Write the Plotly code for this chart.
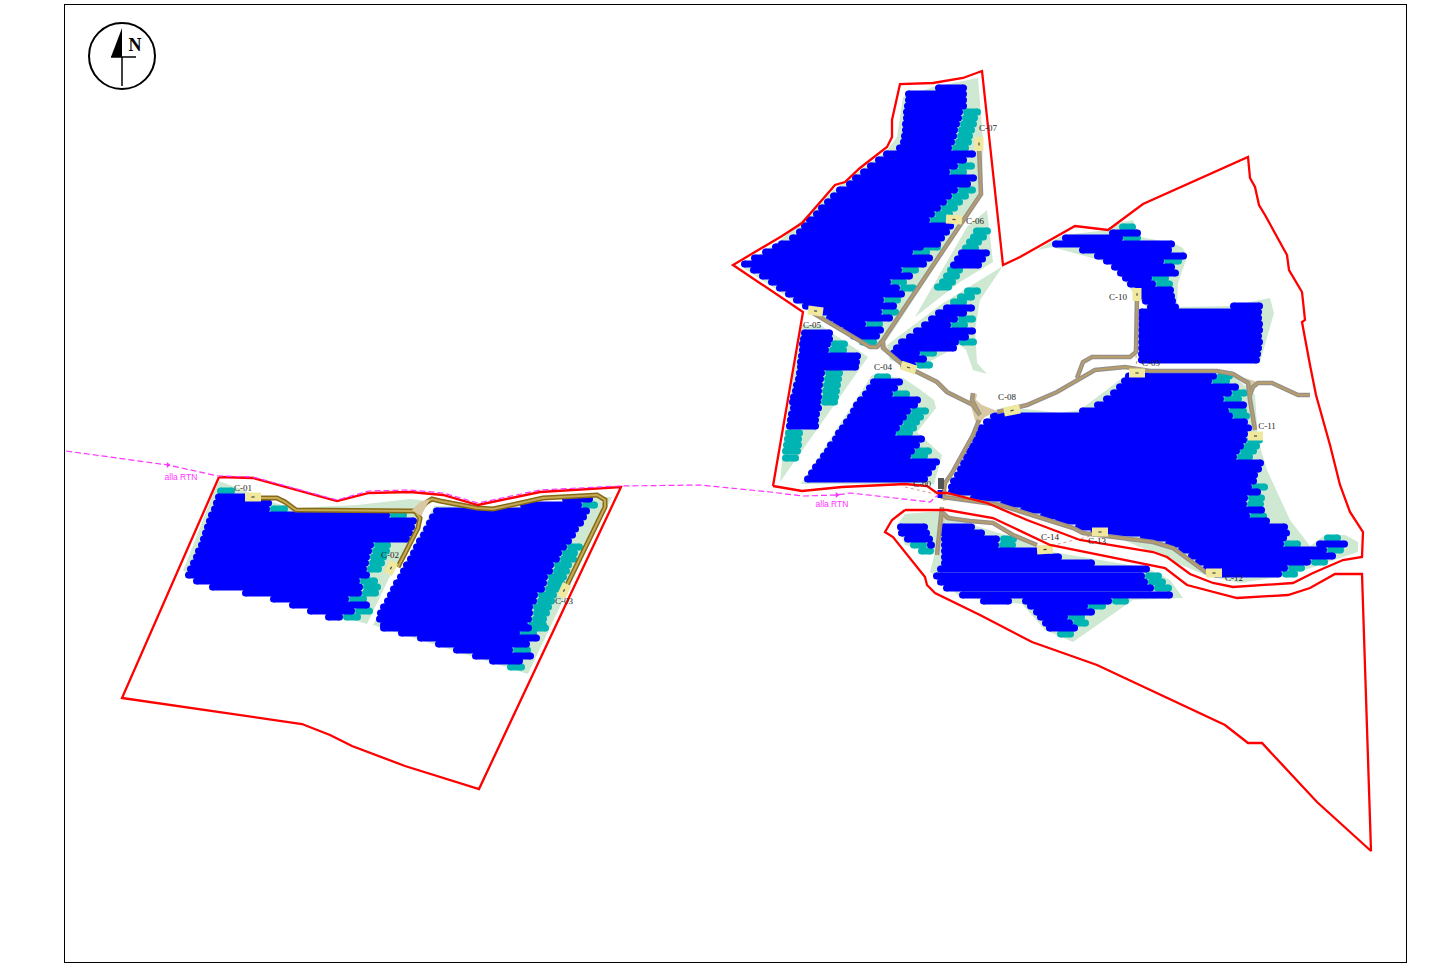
import plotly.graph_objects as go

# ---- panel rows: (y, blue left, blue right / teal left, teal right or 0) ----
ROWS_W1 = [(491,217,217,235),(497,215,250,0),(503,213,272,0),(509,211,270,288),(515,208,390,407),(521,206,417,0),(527,204,415,0),
 (533,202,413,0),(539,200,410,0),(545,198,374,391),(551,195,372,390),(557,193,370,387),(563,190,369,385),
 (569,187,367,382),(575,185,370,0),(581,193,360,378),(587,209,363,381),(593,242,362,379),(599,270,349,367),
 (605,289,370,0),(611,307,355,373),(617,325,343,361)]
ROWS_W2 = [(499,562,593,0),(505,520,582,598),(511,433,590,0),(517,429,587,0),(523,426,584,0),(529,423,579,0),(535,420,576,0),
 (541,416,572,0),(547,413,567,583),(553,410,562,578),(559,407,560,577),(565,403,554,572),(571,400,553,570),
 (577,397,548,567),(583,393,547,565),(589,390,545,563),(595,387,538,557),(601,384,537,555),(607,380,533,552),
 (613,377,533,550),(619,376,532,547),(625,380,528,547),(628,380,532,549),(633,398,520,537),(638,417,540,0),(644,435,530,0),
 (650,453,513,531),(656,472,534,0),(661,489,523,0),(667,507,507,525)]
ROWS_N1 = [(88,935,967,0),(94,905,967,0),(100,905,967,0),(106,904,967,0),(112,903,963,981),(118,903,962,978),
 (124,902,960,977),(130,902,958,975),(136,901,957,973),(142,900,955,972),(148,896,952,969),(154,883,976,0),
 (160,875,967,0),(166,867,958,975),(172,860,950,967),(178,852,977,0),(184,846,971,0),(190,836,958,976),
 (196,830,952,969),(202,824,947,963),(208,818,941,958),(214,813,935,953),(220,806,930,947),(226,801,954,0),
 (232,796,950,0),(238,789,945,0),(244,778,941,0),(247,772,924,941),(252,762,913,930),(258,751,933,0),
 (264,741,927,0),(270,750,902,919),(276,759,913,0),(282,768,891,907),(288,776,900,917),(294,785,905,0),
 (300,793,884,901),(306,802,897,0),(312,815,882,899),(318,826,893,0),(324,832,866,883),(330,842,884,0),
 (336,850,880,0),(342,859,859,877)]
ROWS_N2 = [(231,973,973,991),(237,970,970,987),(242,966,966,982),(248,962,962,979),(253,958,990,0),(259,954,986,0),
 (265,950,982,0),(270,947,947,963),(276,943,943,960),(282,939,939,956),(287,934,934,952)]
ROWS_N3 = [(291,964,964,981),(297,957,957,975),(302,950,950,967),(308,943,975,0),(313,935,967,0),(319,928,958,976),
 (325,921,951,968),(331,913,976,0),(337,906,969,0),(342,898,959,977),(348,893,957,0),(353,890,920,937),
 (359,895,927,0),(365,900,916,933)]
ROWS_SW = [(333,801,833,0),(339,800,833,0),(344,799,831,848),(350,799,829,847),(356,798,861,0),(362,797,860,0),
 (367,797,859,0),(373,796,825,843),(379,795,824,842),(385,793,823,841),(391,792,822,840),(397,790,822,839),
 (402,789,821,838),(408,790,822,0),(414,788,820,0),(420,787,819,0),(426,786,819,0),(433,785,785,803),
 (439,784,784,802),(445,783,783,802),(451,782,782,801),(458,782,782,799)]
ROWS_C4 = [(377,874,874,891),(382,870,903,0),(388,866,898,0),(394,862,893,910),(400,857,921,0),(405,853,918,0),
 (411,850,911,929),(417,847,907,924),(422,843,903,920),(428,839,900,917),(433,835,896,913),(439,832,925,0),
 (445,827,920,0),(451,824,915,932),(456,820,911,928),(462,816,940,0),(467,812,936,0),(473,808,932,0),(479,804,928,0)]
ROWS_E1 = [(227,1119,1119,1136),(233,1109,1141,0),(238,1062,1123,1141),(244,1052,1175,0),(250,1079,1172,0),
 (256,1094,1187,0),(261,1103,1164,1182),(267,1111,1175,0),(273,1117,1179,0),(278,1122,1152,1169),
 (284,1127,1156,1173),(290,1134,1174,0),(296,1138,1175,0),(301,1142,1176,0),(307,1147,1179,0),(306,1230,1263,0),
 (312,1138,1262,0),(318,1138,1262,0),(324,1138,1263,0),(330,1138,1263,0),(336,1138,1262,0),(342,1138,1263,0),
 (348,1138,1262,0),(354,1138,1261,0),(360,1138,1260,0)]
ROWS_E2 = [(376,1125,1217,1233),(381,1121,1212,1230),(387,1116,1239,0),(393,1110,1232,1248),(399,1103,1224,1242),
 (405,1094,1247,0),(411,1079,1229,1247),(416,990,1233,1250),(422,983,1248,0),(428,977,1252,0),(434,975,1248,0),
 (440,972,1247,1263),(446,969,1244,1260),(451,966,1240,1257),(457,963,1237,1253),(463,960,1264,0),(469,957,1262,0),
 (475,954,1258,0),(481,950,1257,0),(487,948,1252,1268),(492,948,1261,0),(498,970,1248,1265),(504,1000,1247,1264),
 (510,1020,1265,0),(516,1040,1250,1267),(521,1055,1270,0),(527,1075,1288,0),(533,1090,1290,0),(538,1140,1287,0),
 (538,1324,1324,1341),(544,1165,1284,1301),(544,1316,1348,0),(550,1178,1327,1344),(556,1188,1336,0),
 (562,1195,1311,1328),(568,1203,1288,1305),(574,1212,1282,1298)]
ROWS_S = [(527,897,928,0),(533,898,930,0),(539,904,933,0),(545,927,935,0),(545,910,910,927),(551,918,918,934),
 (527,940,975,0),(533,940,985,0),(539,941,1000,1017),(545,941,999,1016),(551,941,1050,0),(557,941,1062,0),
 (563,941,1095,0),(569,937,1150,0),(576,933,1145,1162),(582,937,1148,1166),(588,943,1154,1172),(595,959,1173,0),
 (601,980,1012,0),(601,1022,1112,1129),(606,1027,1088,1106),(612,1033,1095,0),(617,1037,1068,1085),
 (623,1042,1073,1089),(628,1046,1078,0),(634,1057,1057,1074)]
ALL_ROWS = [ROWS_W1, ROWS_W2, ROWS_N1, ROWS_N2, ROWS_N3, ROWS_SW, ROWS_C4, ROWS_E1, ROWS_E2, ROWS_S]

# ---- green areas ----
GREEN = [
 [(219,481),(238,488),(275,503),(294,508),(357,505),(410,499),(428,501),(418,512),(423,520),(392,572),(367,624),(183,571),(213,494)],
 [(434,506),(466,505),(470,513),(495,513),(520,506),(600,497),(612,497),(528,674),(373,625)],
 [(933,87),(978,78),(983,140),(982,195),(887,340),(873,347),(813,313),(803,307),(742,267),(783,238),(830,193),(887,150),(897,137),(903,97)],
 [(987,210),(993,262),(960,282),(915,317),(967,227)],
 [(1003,266),(943,303),(887,345),(890,360),(918,368),(960,345),(966,350),(973,370),(987,374),(977,363),(975,330),(980,300)],
 [(801,325),(820,325),(868,357),(780,482),(785,430)],
 [(872,375),(903,378),(918,388),(934,400),(936,408),(917,432),(942,455),(934,484),(801,484)],
 [(990,415),(1017,408),(1060,413),(1080,410),(1125,376),(1233,375),(1255,395),(1258,440),(1267,470),(1290,520),(1310,546),(1325,535),(1345,535),(1358,542),(1358,552),(1290,575),(1240,583),(1205,575),(1100,530),(950,495)],
 [(1037,250),(1063,235),(1108,230),(1118,223),(1133,220),(1137,230),(1140,237),(1173,243),(1183,248),(1187,257),(1178,283),(1177,307),(1230,306),(1270,298),(1274,313),(1260,362),(1137,362),(1147,308),(1137,297),(1110,263),(1052,247)],
 [(897,525),(905,514),(940,511),(973,525),(1037,545),(1053,552),(1147,568),(1170,580),(1183,598),(1133,600),(1073,642),(1045,630),(1022,604),(960,597),(930,572),(935,552),(905,545)],
]

# ---- roads ----
ROADS_WEST = [
 [(260,498),(277,498),(285,502),(296,510),(410,511),(418,511),(427,502),(432,499),(440,501),(477,508),(493,509),(543,498),(597,495),(605,500),(605,507),(567,585)],
 [(415,511),(420,518),(418,528),(398,567)],
]
ROADS_EAST = [
 [(979,147),(981,194),(883,340),(877,347),(870,347),(813,313)],
 [(883,340),(883,348),(903,365),(937,382),(947,392),(973,405),(980,415)],
 [(979,420),(973,435),(952,473),(945,483),(943,497),(1000,505),(1073,528),(1083,533),(1153,542),(1173,548),(1207,573)],
 [(997,412),(1027,405),(1057,392),(1077,380),(1095,370),(1125,367),(1150,371),(1217,371),(1233,374),(1248,383),(1250,400),(1255,430)],
 [(1250,395),(1253,387),(1258,383),(1272,383),(1298,395),(1310,395)],
 [(1137,297),(1136,352),(1130,357),(1092,357),(1083,362),(1077,378)],
 [(942,507),(937,555)],
 [(943,513),(948,518),(970,521),(993,523),(1013,535),(1037,545)],
 [(973,393),(972,400),(978,412)],
]
JUNCTIONS = [
 [(973,394),(977,394),(976,400),(982,405),(997,411),(985,417),(978,425),(975,420),(970,403)],
 [(941,507),(947,517),(938,530)],
 [(945,490),(960,498),(943,501)],
 [(1241,377),(1258,382),(1252,393)],
 [(877,345),(884,340),(889,353)],
 [(420,502),(430,499),(421,516),(412,510)],
]
CABLES = [[(1046,547),(1095,535)],[(1136,355),(1137,370)],[(905,487),(935,494)]]

# ---- boundaries ----
RED_WEST = [(219,477),(253,478),(337,501),(369,493),(410,492),(443,495),(478,505),(540,492),(621,487),(479,789),(405,766),(352,746),(330,735),(302,724),(122,698),(219,477)]
RED_NORTH = [(773,486),(802,320),(803,312),(733,265),(782,236),(802,223),(835,185),(845,182),(860,168),(887,147),(892,137),(892,120),(900,84),(933,83),(963,78),(982,71),(1003,265),(1020,257),(1075,226),(1108,230),(1143,204),(1248,157),(1250,178),(1255,187),(1259,205),(1265,215),(1287,255),(1289,270),(1302,292),(1305,320),(1302,322),(1310,365),(1316,395),(1330,445),(1340,485),(1350,512),(1363,532),(1362,557),(1343,560),(1313,573),(1293,583),(1233,587),(1213,583),(1190,574),(1167,557),(1153,552),(1080,540),(1027,520),(987,503),(947,493),(937,493),(927,486),(905,484),(842,487),(802,491),(773,486)]
RED_SOUTH = [(905,510),(892,520),(885,532),(893,537),(925,577),(927,585),(935,593),(980,615),(1032,642),(1097,665),(1225,725),(1248,743),(1262,743),(1317,802),(1371,851),(1362,574),(1335,574),(1310,588),(1288,595),(1237,598),(1187,585),(1165,568),(1050,545),(993,518),(947,510),(905,510)]
MAGENTA = [(66,451),(168,465),(218,476),(253,477),(337,500),(369,491),(410,490),(443,493),(478,503),(540,490),(620,486),(700,485),(770,492),(803,496),(837,495),(850,493),(930,502),(938,495)]
RTN_MARKS = [(168,465),(837,495)]

# ---- cabins: segment ends ----
CABINS = [[(245,497),(261,497)],[(388,574),(394,562)],[(561,597),(567,584)],[(901,365),(916,370)],[(808,310),(823,312)],
 [(946,219),(962,220)],[(979,137),(979,151)],[(1004,412),(1020,409)],[(1129,373),(1145,373)],[(1137,288),(1137,301)],
 [(1248,436),(1263,436)],[(1206,573),(1222,573)],[(1092,532),(1108,532)],[(1037,550),(1053,549)]]

LABELS = ["C-00","C-01","C-02","C-03","C-04","C-05","C-06","C-07","C-08","C-09","C-10","C-11","C-12","C-13","C-14"]
LABEL_X = [922,243,390,564,883,812,975,988,1007,1151,1118,1267,1234,1097,1050]
LABEL_Y = [485,489,556,602,368,326,222,129,398,364,298,427,579,542,538]
RTN_TEXT = ["alla RTN","alla RTN"]
RTN_X = [181,832]
RTN_Y = [478,505]

# north arrow parts
ARROW_TRI = [(122,28),(111,57),(122,57),(122,28)]
ARROW_LINES = [[(111,57),(136,57)],[(122,57),(122,86)]]
ARROW_N = (135,46)
ARROW_CIRCLE = (89,23,155,89)

fig = go.Figure()

def xs(p): return [a for a,_ in p]
def ys(p): return [b for _,b in p]

def path_trace(paths, color, width, dash=None):
    X, Y = [], []
    for p in paths:
        X += xs(p) + [None]
        Y += ys(p) + [None]
    fig.add_trace(go.Scatter(x=X, y=Y, mode="lines", hoverinfo="skip",
                             line=dict(color=color, width=width, dash=dash, shape="linear")))

def fill_trace(polys, color):
    X, Y = [], []
    for p in polys:
        X += xs(p) + [p[0][0], None]
        Y += ys(p) + [p[0][1], None]
    fig.add_trace(go.Scatter(x=X, y=Y, mode="lines", fill="toself", fillcolor=color,
                             hoverinfo="skip", line=dict(width=0, color=color)))

CAP = 3.5
def row_trace(segments, color):
    X, Y = [], []
    for y, a, b in segments:
        X += [a + CAP, b - CAP, None]
        Y += [y, y, None]
    fig.add_trace(go.Scatter(x=X, y=Y, mode="lines+markers", hoverinfo="skip",
                             line=dict(color=color, width=7),
                             marker=dict(color=color, size=7, line=dict(width=0))))

fill_trace(GREEN, "#cfe8d2")

teal_seg, blue_seg = [], []
for block in ALL_ROWS:
    for y, left, right, teal in block:
        if right > left:
            blue_seg.append((y, left, right))
        if teal:
            teal_seg.append((y, right, teal))
row_trace(teal_seg, "#00b4b4")
row_trace(blue_seg, "#0000ff")

# roads
path_trace(ROADS_WEST, "#876a16", 5)
path_trace(ROADS_WEST, "#c6ab57", 2)
fill_trace(JUNCTIONS, "#d8c8a4")
path_trace(ROADS_EAST, "#97918a", 4.6)
path_trace(ROADS_EAST, "#b79e6a", 1.8)

path_trace(CABLES, "#d79a9a", 1, "dot")
path_trace(CABINS, "#efe89e", 9)
path_trace([[(a[0]*0.6+b[0]*0.4, a[1]*0.6+b[1]*0.4), (a[0]*0.4+b[0]*0.6, a[1]*0.4+b[1]*0.6)] for a, b in CABINS], "#4a4a3a", 1.2)

# substation C-00
path_trace([[(941,478),(941,489)]], "#555555", 6)
path_trace([[(940,490),(940,498)]], "#0000ff", 5)

# boundaries
path_trace([RED_WEST, RED_NORTH, RED_SOUTH], "#ff0000", 2.3)
path_trace([MAGENTA], "#ff33ff", 1.2, "6px,3px")
fig.add_trace(go.Scatter(x=xs(RTN_MARKS), y=ys(RTN_MARKS), mode="markers", hoverinfo="skip",
                         marker=dict(symbol="triangle-right", color="#ff33ff", size=5)))

# labels
fig.add_trace(go.Scatter(x=LABEL_X, y=LABEL_Y, mode="text", text=LABELS, hoverinfo="skip",
                         textfont=dict(family="Liberation Serif", size=9, color="#222222")))
fig.add_trace(go.Scatter(x=RTN_X, y=RTN_Y, mode="text", text=RTN_TEXT, hoverinfo="skip",
                         textfont=dict(family="Liberation Sans", size=8.5, color="#ff33ff")))

# north arrow
fill_trace([ARROW_TRI], "#000000")
path_trace(ARROW_LINES, "#000000", 1.5)
fig.add_trace(go.Scatter(x=[ARROW_N[0]], y=[ARROW_N[1]], mode="text", text=["<b>N</b>"], hoverinfo="skip",
                         textfont=dict(family="Liberation Serif", size=18, color="#000000")))
c = ARROW_CIRCLE
fig.add_shape(type="circle", xref="x", yref="y", x0=c[0], y0=c[1], x1=c[2], y1=c[3],
              line=dict(color="#000000", width=2))

axis = dict(showline=True, mirror=True, linecolor="#000000", linewidth=1, ticks="",
            showticklabels=False, showgrid=False, zeroline=False, fixedrange=True)
fig.update_layout(
    width=1440, height=967, showlegend=False, paper_bgcolor="white", plot_bgcolor="white",
    margin=dict(l=65, r=34, t=5, b=5),
    xaxis=dict(range=[65, 1406], **axis),
    yaxis=dict(range=[962, 5], **axis),
)
fig.write_html("out.html", post_script="document.body.style.margin='0';", config=dict(displayModeBar=False))
